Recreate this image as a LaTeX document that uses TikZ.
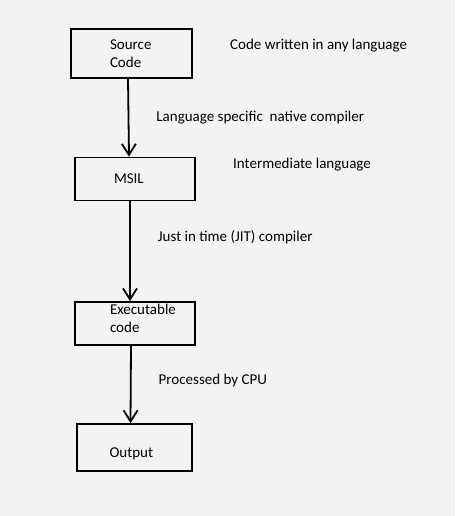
\documentclass[tikz,border=0pt]{standalone}
\usepackage{fontspec}
\setmainfont{Carlito}
\usetikzlibrary{arrows.meta}
\definecolor{paper}{RGB}{243,243,243}

\begin{document}
\begin{tikzpicture}[x=1pt,y=-1pt,
    font=\fontsize{15}{17.5}\selectfont,
    box/.style={draw, line width=1.9pt, align=left, inner sep=0pt},
    flow/.style={-{Straight Barb[length=11pt,width=14pt,line width=1.8pt]}, line width=1.8pt},
    note/.style={anchor=west, inner sep=0pt}]
    \useasboundingbox[fill=paper] (0,0) rectangle (455,516);

    \coordinate (S) at (131.5,53.5);
    \coordinate (M) at (135,179);
    \coordinate (E) at (135,323.5);
    \coordinate (O) at (134.5,447.5);

    \node [box, minimum width=121pt, minimum height=49pt, text width=43pt] (src) at (S) {Source\\Code};
    \node [box, minimum width=120pt, minimum height=43pt, text width=42pt] (msil) at (M) {MSIL};
    \node [box, minimum width=120pt, minimum height=43pt, text width=50pt, text depth=28pt] (exe) at (E) {Executable\\code};
    \node [box, minimum width=115pt, minimum height=47pt, text width=50pt, text height=23pt] (out) at (O) {Output};

    \node [note] (srcnote) at (230,46) {Code written in any language};
    \node [note] (msilnote) at (233,165) {Intermediate language};

    \draw [flow] ([xshift=-3.5pt]src.south) -- node[note, right=27pt]{Language specific\ \ native compiler} ([xshift=-6pt]msil.north);
    \draw [flow] ([xshift=-5pt]msil.south) -- node[note, right=27pt, pos=0.36]{Just in time (JIT) compiler} ([xshift=-5pt]exe.north);
    \draw [flow] ([xshift=-4pt]exe.south) -- node[note, right=27pt, pos=0.45]{Processed by CPU} ([xshift=-4pt]out.north);
\end{tikzpicture}
\end{document}
